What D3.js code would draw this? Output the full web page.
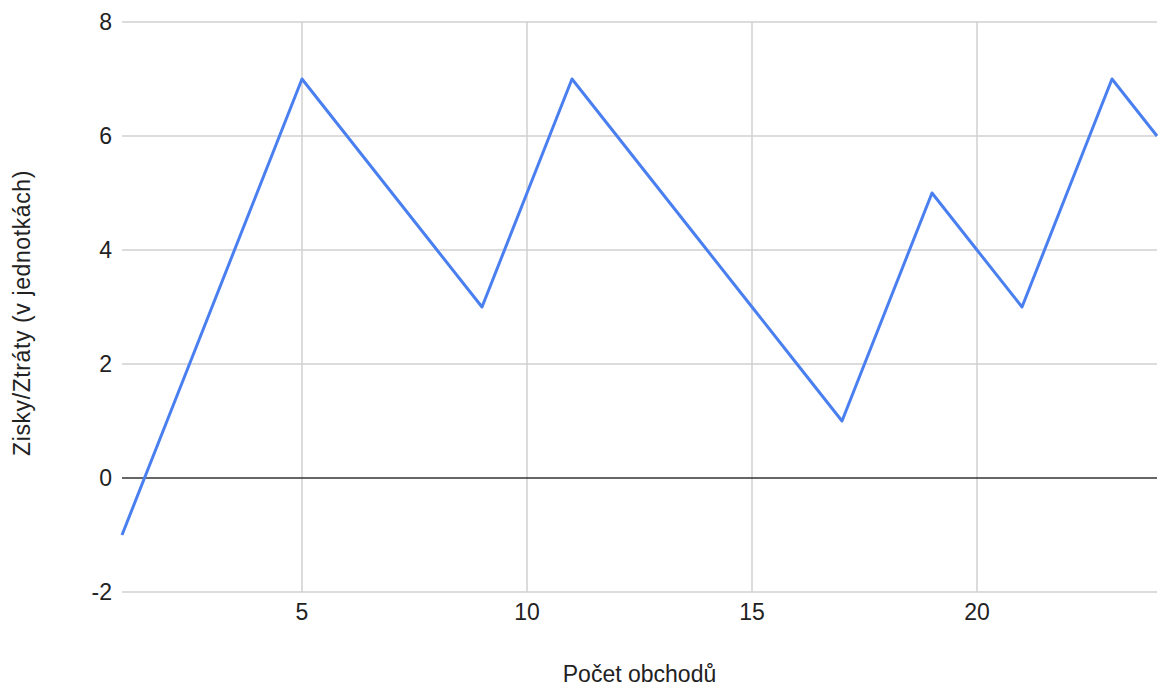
<!DOCTYPE html>
<html><head><meta charset="utf-8">
<script src="https://cdn.jsdelivr.net/npm/d3@7"></script>
<style>body{margin:0;background:#fff}svg{display:block}text{font-family:Arial,"Liberation Sans",sans-serif}</style>
</head><body><svg id="c" width="1159" height="688"></svg>
<script>
const xs = [1,2,3,4,5,6,7,8,9,10,11,12,13,14,15,16,17,18,19,20,21,22,23,24];
const ys = [-1,1,3,5,7,6,5,4,3,5,7,6,5,4,3,2,1,3,5,4,3,5,7,6];
const xTicks = [5,10,15,20];
const yTicks = [-2,0,2,4,6,8];
const xTitle = "Počet obchodů";
const yTitle = "Zisky/Ztráty (v jednotkách)";

const svg = d3.select("#c");
const L=122,R=1157,T=22,B=592;
const x = d3.scaleLinear().domain([1,24]).range([L,R]);
const y = d3.scaleLinear().domain([-2,8]).range([B,T]);

svg.append("g").selectAll("line").data(yTicks.filter(d=>d!==0)).join("line")
  .attr("x1",L).attr("x2",R).attr("y1",d=>y(d)).attr("y2",d=>y(d))
  .attr("stroke","#d0d0d0").attr("stroke-width",1.5);
svg.append("g").selectAll("line").data(xTicks).join("line")
  .attr("x1",d=>x(d)).attr("x2",d=>x(d)).attr("y1",T).attr("y2",B)
  .attr("stroke","#d0d0d0").attr("stroke-width",1.5);
svg.append("line").attr("x1",L).attr("x2",R).attr("y1",y(0)).attr("y2",y(0))
  .attr("stroke","#333").attr("stroke-width",1.5);

svg.append("g").selectAll("text").data(yTicks).join("text")
  .attr("x",L-10).attr("y",d=>y(d)).attr("dy","0.35em").attr("text-anchor","end")
  .attr("font-size",23).attr("fill","#222").text(d=>d);
svg.append("g").selectAll("text").data(xTicks).join("text")
  .attr("x",d=>x(d)).attr("y",B+20).attr("dy","0.35em").attr("text-anchor","middle")
  .attr("font-size",23).attr("fill","#222").text(d=>d);

svg.append("text").attr("x",(L+R)/2).attr("y",674).attr("dy","0.35em").attr("text-anchor","middle")
  .attr("font-size",23).attr("fill","#222").text(xTitle);
svg.append("text").attr("transform",`translate(22,${(T+B)/2+6}) rotate(-90)`).attr("dy","0.35em")
  .attr("text-anchor","middle").attr("font-size",23).attr("letter-spacing",0.6).attr("fill","#222").text(yTitle);

const line = d3.line().x((d,i)=>x(xs[i])).y(d=>y(d));
svg.append("path").datum(ys).attr("d",line).attr("fill","none")
  .attr("stroke","#4a7ff0").attr("stroke-width",3).attr("stroke-linejoin","round");
</script></body></html>
